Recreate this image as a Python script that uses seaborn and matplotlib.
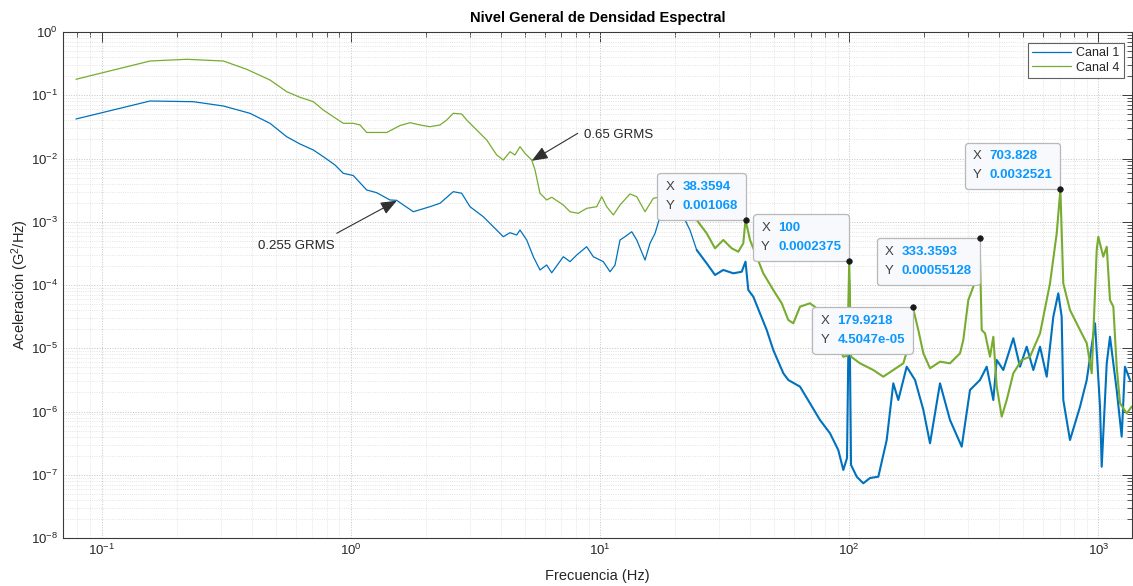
import numpy as np
import pandas as pd
import matplotlib
matplotlib.use("Agg")
import matplotlib.pyplot as plt
from matplotlib.lines import Line2D
from matplotlib.ticker import LogLocator, NullFormatter
from matplotlib.offsetbox import TextArea, HPacker, VPacker, AnnotationBbox
import seaborn as sns

# ---- Spectral density data (G^2/Hz vs Hz) ----
freq_c1 = [0.0789, 0.1564, 0.2333, 0.3081, 0.394, 0.4739, 0.5531, 0.6254, 0.7074, 0.7757,
           0.8642, 0.933, 1.023, 1.158, 1.270, 1.436, 1.528, 1.782, 2.078, 2.280,
           2.578, 2.786, 3.008, 3.402, 3.731, 4.092, 4.354, 4.631, 4.775, 5.08,
           5.40, 5.743, 6.11, 6.40, 7.125, 7.58, 8.065, 8.84, 9.40, 10.31,
           10.97, 11.49, 12.03, 12.6, 13.41, 14.04, 15.16, 15.87, 16.63, 17.41,
           19.45, 21.93, 22.96, 24.43, 26.8, 28.94, 31.24, 34.27, 37.03, 38.36,
           39.36, 41.23, 43.85, 46.67, 49.58, 54.41, 56.96, 63.47, 69.6, 76.35,
           83.75, 90.4, 94.7, 98.0, 100.0, 101.7, 107.2, 113.9, 121.2, 130.9,
           141.4, 150.3, 157.4, 170.1, 183.7, 198.4, 211.0, 231.4, 253.8, 282.8,
           305.3, 334.9, 356.3, 378.7, 390.8, 415.3, 455.6, 484.6, 515.6, 548.1,
           583.2, 620.2, 659.2, 690.2, 712.3, 722.9, 769.1, 843.8, 897.8, 969.2,
           1015, 1031, 1080, 1113, 1184, 1240, 1278, 1339]
psd_c1 = [0.0421, 0.0811, 0.0791, 0.0676, 0.0518, 0.036, 0.0221, 0.01696, 0.01363, 0.01068,
          0.00789, 0.00583, 0.00538, 0.00318, 0.00288, 0.00221, 0.00218, 0.00144, 0.00173, 0.00196,
          0.00299, 0.00282, 0.00173, 0.0012, 0.000835, 0.00058, 0.000671, 0.000617, 0.00074, 0.000515,
          0.00028, 0.000173, 0.000207, 0.000156, 0.00028, 0.000234, 0.000298, 0.000403, 0.00028, 0.000234,
          0.000162, 0.000207, 0.000515, 0.00058, 0.000696, 0.000515, 0.000248, 0.000456, 0.000657, 0.0012,
          0.0015, 0.001066, 0.00074, 0.000358, 0.00022, 0.000144, 0.000173, 0.000153, 0.000162, 0.000234,
          8.34e-5, 6.53e-5, 3.57e-5, 1.94e-5, 9.38e-6, 4.02e-6, 3.15e-6, 2.47e-6, 1.35e-6, 7.34e-7,
          4.52e-7, 2.46e-7, 1.19e-7, 1.84e-7, 1.2e-4, 1.43e-7, 9.31e-8, 7.33e-8, 8.88e-8, 9.31e-8,
          3.54e-7, 2.79e-6, 1.52e-6, 5.11e-6, 3.15e-6, 1.06e-6, 3.14e-7, 2.79e-6, 7.34e-7, 2.78e-7,
          2.19e-6, 3.15e-6, 5.11e-6, 1.52e-6, 6.52e-6, 4.53e-6, 1.44e-5, 5.11e-6, 1.058e-5, 4.53e-6,
          1.058e-5, 3.55e-6, 3.15e-5, 7.39e-5, 3.15e-5, 1.52e-6, 3.54e-7, 1.19e-6, 3.15e-6, 2.48e-5,
          1.19e-6, 1.34e-7, 5.78e-6, 1.52e-5, 2.19e-6, 4.0e-7, 5.11e-6, 3.15e-6]

freq_c4 = [0.0789, 0.1564, 0.2196, 0.3081, 0.3822, 0.4739, 0.5531, 0.6254, 0.7074, 0.7757,
           0.8507, 0.933, 1.023, 1.089, 1.158, 1.394, 1.576, 1.728, 1.895, 2.078,
           2.280, 2.426, 2.578, 2.786, 2.918, 3.201, 3.511, 3.851, 4.092, 4.354,
           4.558, 4.775, 5.0, 5.321, 5.486, 5.743, 6.11, 6.40, 7.125, 7.58,
           8.18, 8.84, 9.70, 10.16, 10.64, 11.31, 12.03, 13.19, 14.04, 15.16,
           16.36, 17.69, 19.45, 21.93, 24.43, 26.8, 28.94, 31.24, 33.77, 35.89,
           37.58, 38.3594, 39.99, 42.55, 45.21, 49.58, 53.6, 56.96, 59.66, 63.47,
           69.6, 74.07, 79.97, 87.7, 94.7, 98.4, 100.0, 101.7, 110.5, 124.9,
           137.0, 150.3, 164.9, 172.7, 179.9218, 189.4, 198.4, 211.0, 231.4, 253.8,
           278.4, 287.0, 300.6, 314.8, 324.8, 333.3593, 340.2, 350.8, 367.3, 378.7,
           390.8, 409.3, 428.6, 455.6, 492.3, 531.5, 583.2, 639.4, 680.3, 703.828,
           722.9, 769.1, 843.8, 897.8, 940.2, 984.5, 999.0, 1046, 1080, 1113,
           1148, 1184, 1221, 1299, 1360]
psd_c4 = [0.1787, 0.3478, 0.3702, 0.3478, 0.2572, 0.1742, 0.1138, 0.0928, 0.0791, 0.0584,
          0.0458, 0.036, 0.036, 0.0339, 0.0258, 0.0258, 0.0332, 0.0368, 0.0339, 0.0318,
          0.0339, 0.0406, 0.0518, 0.0505, 0.0406, 0.0282, 0.0196, 0.01136, 0.00947, 0.0128,
          0.01136, 0.01537, 0.01209, 0.00947, 0.00658, 0.00282, 0.00221, 0.00244, 0.00184, 0.00144,
          0.00136, 0.00163, 0.00173, 0.00249, 0.00173, 0.00128, 0.00184, 0.00275, 0.00249, 0.00144,
          0.00235, 0.00249, 0.00184, 0.00113, 0.001066, 0.000657, 0.00038, 0.000515, 0.00038, 0.000336,
          0.000456, 0.001068, 0.000515, 0.00028, 0.000153, 8.34e-5, 5.14e-5, 2.80e-5, 2.48e-5, 4.54e-5,
          5.14e-5, 4.28e-5, 2.8e-5, 1.35e-5, 7.35e-6, 7.6e-6, 2.375e-4, 7.35e-6, 5.78e-6, 4.53e-6,
          3.55e-6, 4.53e-6, 5.78e-6, 1.058e-5, 4.5047e-5, 1.94e-5, 8.32e-6, 4.82e-6, 6.13e-6, 5.78e-6,
          8.32e-6, 1.35e-5, 5.79e-5, 9.4e-5, 1.53e-4, 5.5128e-4, 1.94e-5, 1.72e-5, 7.35e-6, 1.52e-5,
          2.47e-6, 8.28e-7, 1.52e-6, 4.02e-6, 6.52e-6, 7.35e-6, 1.72e-5, 1.06e-4, 6.57e-4, 3.2521e-3,
          1.06e-4, 4.02e-5, 1.94e-5, 1.2e-5, 4.02e-6, 3.58e-4, 5.8e-4, 2.8e-4, 4.03e-4, 5.79e-5,
          4.54e-5, 5.11e-6, 1.35e-6, 9.36e-7, 1.19e-6]

channel_names = ["Canal 1", "Canal 4"]

# Frequency above which the spectra turn into a dense, noisy band
dense_from_hz = 24.43

# Data tips on Canal 4
tip_freq = [38.3594, 100, 179.9218, 333.3593, 703.828]
tip_psd = [0.001068, 0.0002375, 4.5047e-05, 0.00055128, 0.0032521]

# RMS annotations: label, text position, arrow tail, arrow tip
rms_labels = ["0.65 GRMS", "0.255 GRMS"]
rms_text_xy = [(8.63, 0.0235), (0.6026, 4.14e-4)]
rms_tail_xy = [(8.14, 0.0250), (0.878, 6.57e-4)]
rms_tip_xy = [(5.32, 0.0092), (1.53, 0.00215)]

# ---- Styling ----
sns.set_theme(style="white")
plt.rcParams["font.family"] = ["Liberation Sans", "DejaVu Sans"]
plt.rcParams["mathtext.fontset"] = "custom"
plt.rcParams["mathtext.rm"] = "Liberation Sans"
plt.rcParams["mathtext.it"] = "Liberation Sans:italic"
plt.rcParams["mathtext.bf"] = "Liberation Sans:bold"
plt.rcParams["axes.unicode_minus"] = False

AX_COL = "#3a3a3a"
TXT_COL = "#262626"
colors = {"Canal 1": "#0072BD", "Canal 4": "#77AC30"}


def channel_frame(freq, psd, name):
    d = pd.DataFrame({"freq": freq, "psd": psd, "canal": name})
    low = d[d["freq"] <= dense_from_hz].assign(tramo="bajo")
    high = d[d["freq"] >= dense_from_hz].assign(tramo="alto")
    return pd.concat([low, high], ignore_index=True)


df = pd.concat([channel_frame(freq_c1, psd_c1, channel_names[0]),
                channel_frame(freq_c4, psd_c4, channel_names[1])], ignore_index=True)

fig = plt.figure(figsize=(11.33, 5.86), dpi=100)
ax = fig.add_axes([63 / 1133, 48 / 586, (1132 - 63) / 1133, 506 / 586])

sns.lineplot(data=df, x="freq", y="psd", hue="canal", palette=colors,
             size="tramo", sizes={"bajo": 0.9, "alto": 1.5},
             units="tramo", estimator=None, sort=False, ax=ax, legend=False)
for ln in ax.get_lines():
    if matplotlib.colors.to_hex(ln.get_color()).lower() == colors["Canal 4"].lower():
        ln.set_zorder(2.2)

ax.set_xscale("log")
ax.set_yscale("log")
ax.set_xlim(0.07, 1364)
ax.set_ylim(1e-8, 1)

ax.xaxis.set_major_locator(LogLocator(base=10, numticks=20))
ax.yaxis.set_major_locator(LogLocator(base=10, numticks=20))
ax.xaxis.set_minor_locator(LogLocator(base=10, subs=np.arange(2, 10), numticks=200))
ax.yaxis.set_minor_locator(LogLocator(base=10, subs=np.arange(2, 10), numticks=200))
ax.xaxis.set_minor_formatter(NullFormatter())
ax.yaxis.set_minor_formatter(NullFormatter())

ax.grid(which="major", linestyle=":", color="#c4c4c4", linewidth=0.7)
ax.grid(which="minor", linestyle=":", color="#dcdcdc", linewidth=0.6)
ax.set_axisbelow(True)

ax.tick_params(which="both", direction="in", top=True, right=True,
               color=AX_COL, labelcolor=TXT_COL, labelsize=9.5)
ax.tick_params(which="major", length=7, width=0.7)
ax.tick_params(which="minor", length=3.5, width=0.6)
for s in ax.spines.values():
    s.set_color(AX_COL)
    s.set_linewidth(0.8)

ax.set_title("Nivel General de Densidad Espectral", fontsize=10.5,
             fontweight="bold", color="black", pad=7)
ax.set_xlabel("Frecuencia (Hz)", fontsize=10.5, color=TXT_COL, labelpad=8)
ax.set_ylabel("Aceleración (G$^2$/Hz)", fontsize=10.5, color=TXT_COL, labelpad=0)

handles = [Line2D([], [], color=colors[n], lw=0.9) for n in channel_names]
leg = ax.legend(handles, channel_names, loc="upper right",
                bbox_to_anchor=(0.9925, 0.979), borderaxespad=0,
                fontsize=9, frameon=True, fancybox=False, handlelength=3.1,
                handletextpad=0.4, labelspacing=0.2, borderpad=0.35)
leg.get_frame().set_edgecolor(AX_COL)
leg.get_frame().set_linewidth(0.8)
leg.get_frame().set_facecolor("white")
for t in leg.get_texts():
    t.set_color(TXT_COL)

# RMS callouts
for lab, txy, tail, tip in zip(rms_labels, rms_text_xy, rms_tail_xy, rms_tip_xy):
    ax.text(txy[0], txy[1], lab, fontsize=9.5, color=TXT_COL,
            ha="left" if lab.startswith("0.65") else "center", va="center")
    ax.annotate("", xy=tip, xytext=tail,
                arrowprops=dict(arrowstyle="-|>,head_length=0.7,head_width=0.28",
                                color="#303030", lw=0.8, mutation_scale=14,
                                shrinkA=0, shrinkB=0))

# Data tips
tip_align = [(1, 0), (1, 0), (1, 1), (1, 1), (1, 0)]
pad_frac = 0.6
fs_tip = 9.5
pad_pts = pad_frac * fs_tip
for fx, py, al in zip(tip_freq, tip_psd, tip_align):
    rows = []
    for key, val in (("X", fx), ("Y", py)):
        ta_k = TextArea(key, textprops=dict(color="#404040", fontsize=fs_tip))
        ta_v = TextArea(format(val, ".7g"),
                        textprops=dict(color="#0a98ff", fontsize=fs_tip, fontweight="bold"))
        rows.append(HPacker(children=[ta_k, ta_v], sep=6, align="baseline"))
    box = VPacker(children=rows, sep=5, align="left")
    dy = pad_pts if al[1] == 0 else -pad_pts
    ab = AnnotationBbox(box, (fx, py), xybox=(-pad_pts, dy), xycoords="data",
                        boxcoords="offset points", box_alignment=al,
                        pad=pad_frac, fontsize=fs_tip, frameon=True,
                        bboxprops=dict(boxstyle=f"round,pad={pad_frac},rounding_size=0.25",
                                       fc="#f8f9fc", ec="#b8b8b8", lw=0.9),
                        zorder=5)
    ax.add_artist(ab)

sns.scatterplot(x=tip_freq, y=tip_psd, color="#1a1a1a", s=16, edgecolor="#1a1a1a",
                linewidth=0.5, zorder=6, ax=ax, legend=False)

fig.savefig("out.png", dpi=100)
